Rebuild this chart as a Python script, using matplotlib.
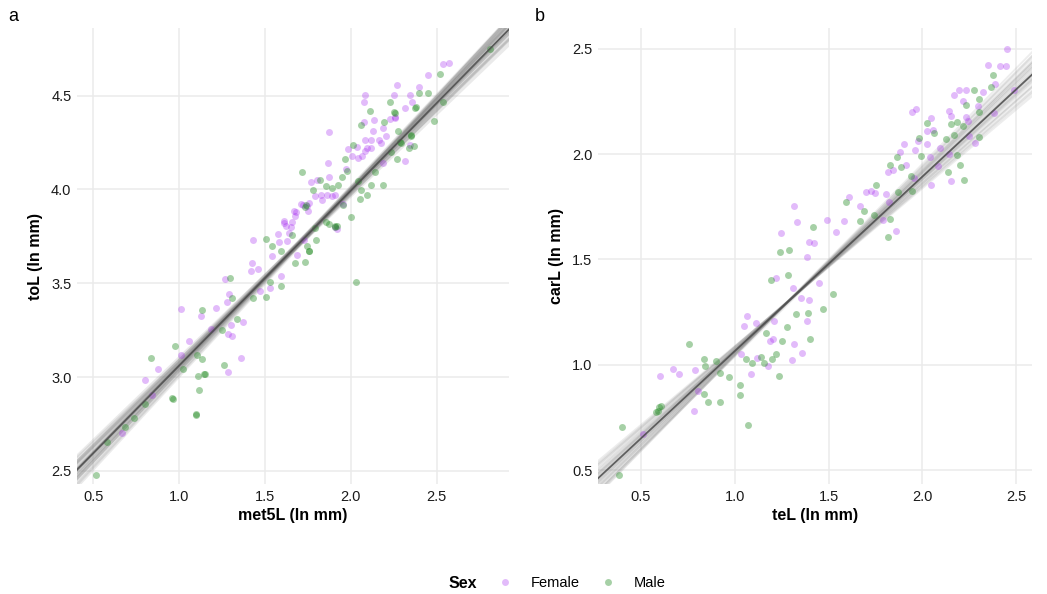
import numpy as np
import matplotlib
matplotlib.use("Agg")
import matplotlib.pyplot as plt
from matplotlib.lines import Line2D

plt.rcParams['font.family'] = ['Liberation Sans', 'DejaVu Sans']

# panel a: met5L vs toL
a_female_x = [2.535, 2.573, 2.448, 2.269, 2.398, 2.081, 2.079, 2.252, 2.342, 2.356, 2.314, 2.258,
              2.229, 2.133, 2.079, 1.871, 2.127, 2.187, 2.081, 2.115, 2.162, 2.206, 2.037, 1.983,
              2.092, 2.062, 2.344, 2.317, 2.187, 1.865, 1.871, 1.969, 1.765, 1.800, 1.823, 1.858,
              1.758, 1.712, 1.671, 1.956, 1.610, 1.658, 1.908,
              1.678, 1.609, 1.649, 1.718, 1.751, 1.431, 1.577, 1.580, 1.540, 1.423, 1.416, 1.456,
              1.268, 1.590, 1.527, 1.469, 1.287, 1.280, 1.213, 1.010, 1.125, 1.374, 1.301, 1.282,
              1.308, 1.182, 1.057, 1.010, 1.362, 0.875, 1.282, 0.799, 1.920, 0.843, 0.668,
              1.677, 1.888, 1.831, 1.625, 1.619, 1.638, 1.687, 1.725, 2.254, 2.177, 2.119, 2.081,
              2.042, 2.004, 1.908, 1.792, 1.744]
a_female_y = [4.666, 4.673, 4.611, 4.558, 4.546, 4.502, 4.466, 4.502, 4.502, 4.466, 4.431, 4.383,
              4.375, 4.367, 4.359, 4.307, 4.309, 4.327, 4.265, 4.265, 4.261, 4.283, 4.226, 4.216,
              4.221, 4.180, 4.239, 4.150, 4.138, 4.143, 4.065, 4.106, 4.037, 4.048, 3.970, 3.970,
              3.928, 3.922, 3.885, 3.924, 3.829, 3.825, 3.797,
              3.881, 3.819, 3.801, 3.916, 3.886, 3.731, 3.762, 3.719, 3.646, 3.607, 3.566, 3.575,
              3.520, 3.539, 3.472, 3.459, 3.441, 3.402, 3.368, 3.365, 3.327, 3.295, 3.278, 3.228,
              3.221, 3.254, 3.192, 3.116, 3.100, 3.044, 3.027, 2.984, 3.790, 2.904, 2.704,
              3.860, 3.963, 3.945, 3.723, 3.803, 3.768, 3.652, 3.732, 4.379, 4.246, 4.220, 4.202,
              4.167, 4.176, 3.972, 3.963, 3.910]
a_male_x = [2.808, 2.521, 2.396, 2.448, 2.535, 2.225, 2.112, 2.252, 2.190, 2.056, 2.485, 2.375,
            2.352, 2.287, 2.369, 2.340, 2.015, 2.235, 2.269, 1.965, 2.138, 1.713, 1.817, 1.777,
            1.950, 2.040, 2.115, 2.187, 2.056, 2.094, 2.052, 2.000, 1.731, 1.908, 1.856,
            1.504, 1.736, 1.872, 1.910, 1.795, 1.757, 1.734, 1.676, 1.590, 1.508, 1.293, 1.132,
            1.335, 1.307, 1.251, 0.977, 0.833, 1.102, 1.132, 1.262, 1.109, 1.151, 1.115, 0.962,
            1.019, 1.431, 1.527, 0.958, 1.095, 1.100, 0.799, 0.739, 0.681, 0.577, 0.517, 1.147,
            2.030,
            2.254, 2.273, 2.292, 1.956, 1.927, 1.975, 1.888, 1.856, 1.917, 1.788, 1.744, 1.754,
            1.658, 1.590, 1.542, 2.350, 2.379]
a_male_y = [4.747, 4.617, 4.512, 4.511, 4.463, 4.466, 4.420, 4.412, 4.357, 4.343, 4.362, 4.431,
            4.290, 4.253, 4.231, 4.221, 4.237, 4.198, 4.161, 4.164, 4.092, 4.094, 4.049, 3.998,
            4.067, 4.044, 4.025, 4.021, 3.994, 3.970, 3.947, 3.853, 3.908, 3.806, 3.827,
            3.733, 3.918, 3.815, 3.801, 3.730, 3.673, 3.614, 3.610, 3.486, 3.429, 3.530, 3.359,
            3.311, 3.423, 3.253, 3.167, 3.101, 3.117, 3.098, 3.066, 3.007, 3.016, 2.932, 2.884,
            3.041, 3.420, 3.504, 2.890, 2.805, 2.800, 2.855, 2.782, 2.736, 2.652, 2.479, 3.018,
            3.505,
            4.406, 4.309, 4.246, 3.918, 4.025, 4.096, 4.007, 4.020, 3.803, 3.794, 3.697, 3.670,
            3.759, 3.670, 3.697, 4.282, 4.441]

# panel b: teL vs carL
b_female_x = [2.451, 2.348, 2.415, 2.445, 2.387, 2.197, 2.232, 2.170, 2.214, 2.324, 2.297, 1.946,
              1.964, 2.140, 2.153, 2.232, 2.043, 2.243, 2.382, 2.026, 2.054, 1.976, 1.902, 1.960,
              1.879, 2.024, 2.091, 2.281, 2.250, 2.144, 1.913, 1.817, 1.844, 2.084, 2.043, 2.151,
              1.955, 1.701, 1.724, 1.609, 1.668, 1.805, 1.821, 1.317, 1.330, 1.246, 1.493, 1.580,
              1.788, 1.859, 1.750, 2.041, 2.490,
              1.395, 1.421, 1.538, 1.388, 1.223, 1.310, 1.354, 1.448, 1.398, 1.064, 1.050, 1.112,
              1.212, 1.204, 1.191, 1.315, 1.361, 1.308, 1.119, 1.177, 1.085, 0.788, 0.671, 0.704,
              0.602, 0.805, 0.782, 1.035, 1.388, 0.514]
b_female_y = [2.500, 2.423, 2.418, 2.421, 2.335, 2.303, 2.303, 2.283, 2.252, 2.294, 2.228, 2.200,
              2.214, 2.203, 2.181, 2.178, 2.170, 2.156, 2.195, 2.112, 2.115, 2.063, 2.049, 2.020,
              2.009, 2.047, 2.030, 2.053, 2.085, 2.000, 1.948, 1.917, 1.923, 1.945, 1.855, 1.874,
              1.885, 1.822, 1.827, 1.796, 1.752, 1.810, 1.772, 1.756, 1.678, 1.626, 1.689, 1.681,
              1.686, 1.635, 1.816, 1.989, 2.306,
              1.584, 1.580, 1.631, 1.513, 1.411, 1.365, 1.317, 1.389, 1.309, 1.232, 1.185, 1.197,
              1.210, 1.121, 1.115, 1.097, 1.057, 1.022, 1.030, 0.994, 0.955, 0.975, 0.982, 0.955,
              0.947, 0.874, 0.780, 1.051, 1.210, 0.671]
b_male_x = [2.375, 2.272, 2.364, 2.230, 2.301, 2.302, 2.151, 2.183, 2.024, 2.063, 1.980, 2.123,
            2.170, 2.218, 2.302, 1.865, 1.825, 1.884, 1.990, 2.186, 2.200, 2.135, 2.220, 1.939,
            1.754, 1.595, 1.870, 1.943, 1.689, 1.417, 1.828, 1.668, 1.817, 1.742,
            1.244, 1.288, 1.195, 1.526, 1.473, 1.389, 1.327, 1.280, 1.253, 1.400, 1.221, 1.200,
            1.138, 1.156, 1.090, 1.060, 1.235, 0.972, 1.027, 1.027, 1.071, 0.758, 0.835, 0.899,
            0.920, 0.835, 0.858, 0.920, 0.841, 1.168, 1.283, 0.596, 0.584, 0.403, 0.382, 0.590,
            0.606]
b_male_y = [2.377, 2.303, 2.318, 2.233, 2.264, 2.200, 2.142, 2.151, 2.148, 2.099, 2.075, 2.072,
            2.090, 2.134, 2.082, 1.987, 1.950, 1.940, 1.992, 1.994, 1.950, 1.914, 1.876, 1.898,
            1.855, 1.772, 1.819, 1.827, 1.728, 1.654, 1.693, 1.682, 1.607, 1.709,
            1.537, 1.545, 1.401, 1.336, 1.264, 1.245, 1.240, 1.178, 1.115, 1.123, 1.049, 1.029,
            1.038, 1.010, 1.010, 1.029, 0.946, 0.944, 0.906, 0.855, 0.715, 1.097, 1.027, 1.018,
            0.962, 0.863, 0.823, 0.822, 0.995, 1.150, 1.424, 0.799, 0.775, 0.706, 0.475, 0.778,
            0.802]

# posterior regression draws: value at centre x and slope
a_center_x = 1.75
a_draw_mid = [3.758, 3.765, 3.752, 3.770, 3.760, 3.748, 3.767, 3.755, 3.763, 3.773,
              3.757, 3.750, 3.766, 3.761, 3.754, 3.769, 3.759, 3.746, 3.764, 3.762,
              3.756, 3.768, 3.751, 3.763, 3.759]
a_draw_slope = [0.930, 0.955, 0.895, 0.975, 0.915, 0.990, 0.905, 0.960, 0.880, 0.940,
                0.980, 0.895, 0.950, 0.930, 0.985, 0.905, 0.965, 0.875, 0.935, 0.955,
                0.920, 0.970, 0.900, 0.945, 0.930]
a_mean = (3.761, 0.932)

b_center_x = 1.6
b_draw_mid = [1.560, 1.575, 1.548, 1.582, 1.556, 1.541, 1.570, 1.552, 1.566, 1.590,
              1.559, 1.545, 1.572, 1.563, 1.550, 1.579, 1.557, 1.538, 1.568, 1.562,
              1.554, 1.577, 1.547, 1.565, 1.561, 1.585, 1.543, 1.569, 1.558, 1.574]
b_draw_slope = [0.830, 0.870, 0.790, 0.900, 0.810, 0.760, 0.850, 0.800, 0.880, 0.910,
                0.820, 0.770, 0.860, 0.840, 0.780, 0.890, 0.815, 0.750, 0.865, 0.835,
                0.805, 0.875, 0.785, 0.845, 0.825, 0.895, 0.765, 0.855, 0.810, 0.880]
b_mean = (1.562, 0.83)

female_col = '#A020F0'
male_col = '#228B22'

fig = plt.figure(figsize=(10.47, 5.94), dpi=100)
ax_a = fig.add_axes([0.0735, 0.185, 0.4125, 0.768])
ax_b = fig.add_axes([0.571, 0.185, 0.415, 0.768])


def draw_panel(ax, fx, fy, mx, my, xc, mids, slopes, mean, xlim, ylim, ticks_y, xlabel, ylabel, lw, alpha):
    ax.set_xlim(*xlim)
    ax.set_ylim(*ylim)
    xs = np.array(xlim)
    for m, s in zip(mids, slopes):
        ax.plot(xs, m + s * (xs - xc), color='#808080', alpha=alpha, lw=lw, zorder=2)
    ax.scatter(fx, fy, s=25, color=female_col, alpha=0.3, linewidths=0, zorder=3)
    ax.scatter(mx, my, s=25, color=male_col, alpha=0.4, linewidths=0, zorder=3)
    ax.plot(xs, mean[0] + mean[1] * (xs - xc), color='#4a4a4a', alpha=0.85, lw=1.3, zorder=4)
    ax.set_xticks([0.5, 1.0, 1.5, 2.0, 2.5])
    ax.set_yticks(ticks_y)
    ax.set_xticklabels(['0.5', '1.0', '1.5', '2.0', '2.5'])
    ax.set_yticklabels([f'{t:.1f}' for t in ticks_y])
    ax.grid(True, color='#ebebeb', lw=1.1)
    ax.set_axisbelow(True)
    for sp in ax.spines.values():
        sp.set_visible(False)
    ax.tick_params(length=0, labelsize=10.5, colors='#1a1a1a', pad=4)
    ax.set_xlabel(xlabel, fontsize=11.5, fontweight='bold', labelpad=3)
    ax.set_ylabel(ylabel, fontsize=11.5, fontweight='bold', labelpad=6)


draw_panel(ax_a, a_female_x, a_female_y, a_male_x, a_male_y, a_center_x,
           a_draw_mid, a_draw_slope, a_mean, (0.404, 2.92), (2.43, 4.86),
           [2.5, 3.0, 3.5, 4.0, 4.5], 'met5L (ln mm)', 'toL (ln mm)', 2.2, 0.16)
draw_panel(ax_b, b_female_x, b_female_y, b_male_x, b_male_y, b_center_x,
           b_draw_mid, b_draw_slope, b_mean, (0.272, 2.585), (0.433, 2.60),
           [0.5, 1.0, 1.5, 2.0, 2.5], 'teL (ln mm)', 'carL (ln mm)', 1.4, 0.14)

fig.text(0.008, 0.972, 'a', fontsize=13, va='center')
fig.text(0.511, 0.972, 'b', fontsize=13, va='center')

# legend: bold title to the left of the keys
legend_y = 1 - 583 / 594
fig.text(449 / 1047, legend_y, 'Sex', fontsize=11.5, fontweight='bold', va='center', ha='left')
handles = [Line2D([], [], marker='o', ls='', color=female_col, alpha=0.3, markersize=5, markeredgewidth=0),
           Line2D([], [], marker='o', ls='', color=male_col, alpha=0.4, markersize=5, markeredgewidth=0)]
fig.legend(handles, ['Female', 'Male'], loc='center left', bbox_to_anchor=(496 / 1047, legend_y),
           ncol=2, frameon=False, fontsize=10.5, handlelength=1.2, handletextpad=1.2,
           columnspacing=1.3, borderpad=0, borderaxespad=0)

fig.savefig('out.png', dpi=100)
